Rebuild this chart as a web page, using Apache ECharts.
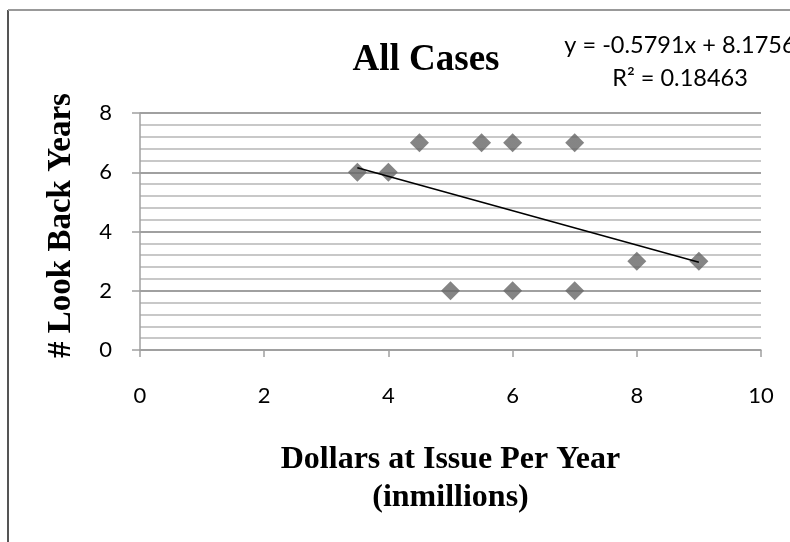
<!DOCTYPE html>
<html>
<head>
<meta charset="utf-8">
<script src="https://cdn.jsdelivr.net/npm/echarts@6/dist/echarts.min.js"></script>
<style>
html,body{margin:0;padding:0;background:#fff;}
#chart{width:790px;height:542px;}
</style>
</head>
<body>
<div id="chart"></div>
<script>
var xValues = [3.5, 4, 4.5, 5.5, 6, 7, 5, 6, 7, 8, 9];
var yValues = [6, 6, 7, 7, 7, 7, 2, 2, 2, 3, 3];
var trendX = [3.5, 9];
var trendY = [6.149, 2.964];
var xTicks = [0, 2, 4, 6, 8, 10];
var yTicks = [0, 2, 4, 6, 8];
var titleText = 'All Cases';
var equationText = 'y = -0.5791x + 8.1756\nR\u00B2 = 0.18463';
var xName = 'Dollars at Issue Per Year\n(inmillions)';
var yName = '# Look Back Years';

var points = xValues.map(function (x, i) { return [x, yValues[i]]; });
var trend = trendX.map(function (x, i) { return [x, trendY[i]]; });

var chart = echarts.init(document.getElementById('chart'));
chart.setOption({
  animation: false,
  backgroundColor: '#ffffff',
  title: [{
    text: titleText,
    left: 421, top: 37, textAlign: 'center',
    textStyle: { fontFamily: 'Liberation Serif', fontWeight: 'bold', fontSize: 37, color: '#000' }
  }, {
    text: equationText,
    left: 675, top: 24, textAlign: 'center',
    textStyle: { fontFamily: 'Lato', fontWeight: 'normal', fontSize: 23.5, lineHeight: 33, color: '#000', align: 'center' }
  }],
  graphic: [
    { type: 'line', shape: { x1: 8, y1: 10, x2: 8, y2: 542 }, style: { stroke: '#555', lineWidth: 2 } },
    { type: 'line', shape: { x1: 8, y1: 10, x2: 790, y2: 10 }, style: { stroke: '#999', lineWidth: 2 } }
  ],
  grid: { left: 140, right: 29, top: 113, bottom: 192 },
  xAxis: {
    type: 'value', min: 0, max: 10, interval: 2,
    name: xName, nameLocation: 'middle', nameGap: 91,
    nameTextStyle: { fontFamily: 'Liberation Serif', fontWeight: 'bold', fontSize: 32, lineHeight: 38, color: '#000' },
    axisLine: { show: true, lineStyle: { color: '#a0a0a0', width: 1.5 } },
    axisTick: { show: true, inside: false, length: 7, lineStyle: { color: '#a0a0a0', width: 1.5 } },
    axisLabel: { margin: 35, fontFamily: 'Lato', fontSize: 22, color: '#000',
      formatter: function (v) { return xTicks.indexOf(v) >= 0 ? String(v) : ''; } },
    splitLine: { show: false }
  },
  yAxis: {
    type: 'value', min: 0, max: 8, interval: 2,
    name: yName, nameLocation: 'middle', nameGap: 62, nameRotate: 90,
    nameTextStyle: { fontFamily: 'Liberation Serif', fontWeight: 'bold', fontSize: 33, color: '#000', padding: [0, 0, 0, 12] },
    axisLine: { show: true, lineStyle: { color: '#a0a0a0', width: 1.5 } },
    axisTick: { show: true, inside: false, length: 8, lineStyle: { color: '#a0a0a0', width: 1.5 } },
    axisLabel: { margin: 28, fontFamily: 'Lato', fontSize: 22, color: '#000',
      formatter: function (v) { return yTicks.indexOf(v) >= 0 ? String(v) : ''; } },
    splitLine: { show: true, lineStyle: { color: '#a0a0a0', width: 1.8 } },
    minorTick: { show: false, splitNumber: 5 },
    minorSplitLine: { show: true, lineStyle: { color: '#c8c8c8', width: 1.8 } }
  },
  series: [{
    type: 'scatter',
    data: points,
    symbol: 'diamond',
    symbolSize: [19, 19],
    itemStyle: {
      color: new echarts.graphic.LinearGradient(0, 140, 0, 290, [
        { offset: 0, color: '#666666' },
        { offset: 1, color: '#878787' }
      ], true)
    },
    z: 3
  }, {
    type: 'line',
    data: trend,
    showSymbol: false,
    symbol: 'none',
    lineStyle: { color: '#000', width: 1.5 },
    z: 4
  }]
});
</script>
</body>
</html>
